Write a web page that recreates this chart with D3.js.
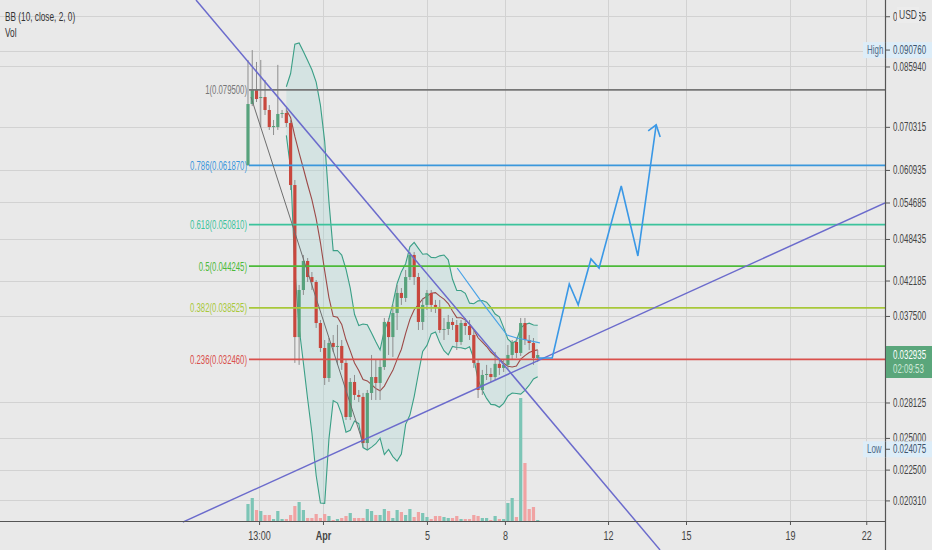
<!DOCTYPE html>
<html>
<head>
<meta charset="utf-8">
<script src="https://cdn.jsdelivr.net/npm/d3@7"></script>
<style>
  body { margin: 0; background: #e9e9e9; }
  text { font-family: "Liberation Sans", Arial, sans-serif; }
</style>
</head>
<body>
<svg id="chart" width="932" height="550"></svg>
<script>
// ---- candles (USD), one per bar ----
const opens = [0.06193,0.07586,0.07948,0.07739,0.07764,0.07437,0.07028,0.07028,0.07339,0.07363,
  0.07122,0.05795,0.03496,0.04088,0.04502,0.04268,0.04198,0.03663,0.03371,0.03051,
  0.03428,0.03383,0.03394,0.03208,0.02680,0.03011,0.02884,0.02865,0.02458,0.02903,
  0.03061,0.03001,0.03165,0.03676,0.03496,0.03787,0.04048,0.03981,0.04268,0.04593,
  0.04268,0.03676,0.03890,0.04048,0.03890,0.03864,0.03579,0.03591,0.03676,0.03639,
  0.03439,0.03663,0.03627,0.03520,0.03208,0.02932,0.03082,0.03092,0.03061,0.03198,
  0.03155,0.03187,0.03294,0.03439,0.03316,0.03663,0.03462,0.03428,0.03261];
const highs = [0.08782,0.09076,0.08724,0.08782,0.08217,0.07560,0.07194,0.08640,0.07437,0.07486,
  0.07194,0.05893,0.04157,0.04593,0.04547,0.04340,0.04226,0.03700,0.03462,0.03485,
  0.03520,0.03640,0.03462,0.03240,0.03051,0.03082,0.02932,0.02903,0.02932,0.03294,
  0.03240,0.03240,0.03725,0.03725,0.03890,0.04157,0.04115,0.04369,0.04639,0.04639,
  0.04326,0.03981,0.04088,0.04088,0.03955,0.03955,0.03725,0.03763,0.03725,0.03700,
  0.03700,0.03725,0.03700,0.03579,0.03240,0.03134,0.03187,0.03155,0.03327,0.03261,
  0.03240,0.03405,0.03462,0.03485,0.03725,0.03725,0.03520,0.03485,0.03349];
const lows = [0.06173,0.07535,0.07637,0.07028,0.07314,0.06959,0.06843,0.06959,0.07241,0.07028,
  0.05700,0.03208,0.03187,0.04021,0.04198,0.04088,0.03603,0.03327,0.02981,0.03011,
  0.03327,0.03187,0.03134,0.02654,0.02654,0.02836,0.02817,0.02426,0.02408,0.02836,
  0.02836,0.02836,0.03134,0.03294,0.03272,0.03579,0.03890,0.03929,0.04226,0.04157,
  0.03579,0.03579,0.03825,0.03800,0.03787,0.03544,0.03462,0.03520,0.03579,0.03349,
  0.03405,0.03520,0.03462,0.03155,0.02855,0.02884,0.03031,0.03011,0.03031,0.03082,
  0.03113,0.03134,0.03240,0.03261,0.03283,0.03405,0.03349,0.03187,0.03218];
const closes = [0.07586,0.07948,0.07713,0.07764,0.07437,0.07028,0.07051,0.07339,0.07363,0.07122,
  0.05795,0.03496,0.04088,0.04502,0.04268,0.04198,0.03663,0.03371,0.03051,0.03428,
  0.03383,0.03394,0.03208,0.02680,0.03011,0.02884,0.02865,0.02458,0.02903,0.03061,
  0.03001,0.03165,0.03676,0.03496,0.03787,0.04048,0.03981,0.04268,0.04593,0.04268,
  0.03676,0.03890,0.04048,0.03890,0.03864,0.03579,0.03591,0.03676,0.03639,0.03439,
  0.03663,0.03627,0.03520,0.03208,0.02932,0.03082,0.03092,0.03061,0.03198,0.03155,
  0.03187,0.03294,0.03439,0.03316,0.03663,0.03462,0.03428,0.03261,0.032935];
const volumes = [17,23,11,10,6,6,2,10,2,2,6,15,19,11,3,3,7,3,7,5,1,2,3,5,8,3,3,3,12,10,
  6,6,12,10,3,11,9,6,12,4,9,8,4,2,5,5,4,3,3,5,2,2,2,6,5,3,3,1,5,2,2,18,23,4,123,58,12,14,1];

// ---- axes ----
const priceTicks = [0.101565,0.090625,0.085940,0.070315,0.060935,0.054685,0.048435,
  0.042185,0.037500,0.028125,0.025000,0.022500,0.020310];
const timeTicks = ["13:00","Apr","5","8","12","15","19","22"];
const timeTickBars = [3.6,18.6,43.0,61.3,85.5,103.8,128.2,146.1];

// ---- fibonacci retracement ----
const fibLevels = ["1","0.786","0.618","0.5","0.382","0.236"];
const fibPrices = [0.079500,0.061870,0.050810,0.044245,0.038525,0.032460];
const fibColors = ["#767676","#3a97dc","#3cc39c","#4cba3a","#a8c83a","#d9504c"];

// ---- drawings: [bar, price] ----
const trendDown = [[-11.2,0.1072],[97.7,0.01723]];
const trendUp = [[-14.3,0.01890],[150.5,0.05459]];
const grayLine = [[1.7,0.07764],[28,0.02458]];
const lightBlue = [[50.1,0.04398],[55.5,0.03955],[61.8,0.03520],[64.1,0.03485],[69.5,0.03428]];
const projection = [[69.1,0.03261],[72.4,0.03261],[76.4,0.04170],[78.5,0.03890],[81.5,0.04532],
  [83.4,0.04398],[88.6,0.05776],[92.5,0.04578],[96.8,0.07077]];

const lastPrice = 0.032935, lastTime = "02:09:53";
const highPrice = 0.090760, lowPrice = 0.024075;

const plotR = 885, plotB = 521;
const svg = d3.select("#chart");

const x = d3.scaleLinear().domain([-57.2, 150.5]).range([0, plotR]);
const y = d3.scaleLog().domain([0.1072, 0.01903]).range([0, 520]);
const yVol = d3.scaleLinear().domain([0, 140]).range([plotB, plotB - 140]);

const bars = closes.map((c, k) => ({ i: k + 1, o: opens[k], h: highs[k], l: lows[k], c: c, v: volumes[k] }));

// bollinger bands 10, 2
const bb = [];
for (let k = 9; k < closes.length; k++) {
  const w = closes.slice(k - 9, k + 1);
  const m = d3.mean(w);
  const sd = Math.sqrt(d3.mean(w, v => (v - m) * (v - m)));
  bb.push({ i: k + 1, m: m, u: m + 2 * sd, lo: m - 2 * sd });
}

// squeeze a text's glyphs horizontally (the original UI font is condensed)
function narrow(sel, f) {
  sel.each(function() {
    const len = this.getComputedTextLength();
    d3.select(this).attr("textLength", len * f).attr("lengthAdjust", "spacingAndGlyphs");
  });
}

svg.append("rect").attr("width", 932).attr("height", 550).attr("fill", "#e9e9e9");

const defs = svg.append("defs");
defs.append("clipPath").attr("id", "plot")
  .append("rect").attr("width", plotR).attr("height", plotB);
defs.append("clipPath").attr("id", "all")
  .append("rect").attr("width", plotR).attr("height", 550);

// grid
const grid = svg.append("g").attr("stroke", "#d2d2d2").attr("stroke-width", 1);
grid.selectAll(".hg").data(priceTicks).enter().append("line")
  .attr("x1", 0).attr("x2", plotR)
  .attr("y1", d => Math.round(y(d)) + 0.5).attr("y2", d => Math.round(y(d)) + 0.5);
grid.selectAll(".vg").data(timeTickBars).enter().append("line")
  .attr("y1", 0).attr("y2", plotB)
  .attr("x1", d => Math.round(x(d)) + 0.5).attr("x2", d => Math.round(x(d)) + 0.5);

// legend
const legend = svg.append("g").attr("font-size", 12.5).attr("fill", "#333");
legend.append("text").attr("x", 5).attr("y", 21).text("BB (10, close, 2, 0)");
legend.append("text").attr("x", 5).attr("y", 37).text("Vol");
narrow(legend.selectAll("text"), 0.66);

const plot = svg.append("g").attr("clip-path", "url(#plot)");

// volume
plot.selectAll(".vol").data(bars).enter().append("rect")
  .attr("x", d => x(d.i) - 1.6).attr("width", 3.2)
  .attr("y", d => yVol(d.v)).attr("height", d => plotB - yVol(d.v))
  .attr("fill", d => d.c >= d.o ? "#7cc5b6" : "#f0a3a3");

// bollinger fill + lines
plot.append("path").datum(bb)
  .attr("d", d3.area().x(d => x(d.i)).y0(d => y(d.lo)).y1(d => y(d.u)))
  .attr("fill", "#a6d6d4").attr("opacity", 0.3);
[["u", "#3a9f86"], ["lo", "#3a9f86"], ["m", "#9c4a48"]].forEach(([k, col]) => {
  plot.append("path").datum(bb)
    .attr("d", d3.line().x(d => x(d.i)).y(d => y(d[k])))
    .attr("fill", "none").attr("stroke", col).attr("stroke-width", 1.1);
});

// candles
const cg = plot.selectAll(".candle").data(bars).enter().append("g");
cg.append("line")
  .attr("x1", d => x(d.i)).attr("x2", d => x(d.i))
  .attr("y1", d => y(d.h)).attr("y2", d => y(d.l))
  .attr("stroke", "#8e8e8e").attr("stroke-width", 1);
cg.append("rect")
  .attr("x", d => x(d.i) - 1.6).attr("width", 3.2)
  .attr("y", d => y(Math.max(d.o, d.c)))
  .attr("height", d => Math.max(1, Math.abs(y(d.o) - y(d.c))))
  .attr("fill", d => d.c >= d.o ? "#57a27c" : "#c8473d");

// fib lines + labels
const fib = svg.append("g");
fibPrices.forEach((p, k) => {
  fib.append("line").attr("x1", x(1) + 1).attr("x2", plotR)
    .attr("y1", y(p)).attr("y2", y(p))
    .attr("stroke", fibColors[k]).attr("stroke-width", 1.8);
  fib.append("text").attr("x", x(1) - 1).attr("y", y(p) + 4.5)
    .attr("text-anchor", "end").attr("font-size", 12.5).attr("fill", fibColors[k])
    .text(fibLevels[k] + "(" + p.toFixed(6) + ")");
});
narrow(fib.selectAll("text"), 0.62);

// drawings
const draw = svg.append("g").attr("clip-path", "url(#all)");
const ln = d3.line().x(d => x(d[0])).y(d => y(d[1]));
draw.append("path").datum(grayLine).attr("d", ln).attr("fill", "none").attr("stroke", "#6e6e6e").attr("stroke-width", 1);
draw.append("path").datum(trendDown).attr("d", ln).attr("fill", "none").attr("stroke", "#6b6bcc").attr("stroke-width", 1.5);
draw.append("path").datum(trendUp).attr("d", ln).attr("fill", "none").attr("stroke", "#6b6bcc").attr("stroke-width", 1.5);
draw.append("path").datum(lightBlue).attr("d", ln).attr("fill", "none").attr("stroke", "#4aa3e6").attr("stroke-width", 1.2);
draw.append("path").datum(projection).attr("d", ln).attr("fill", "none").attr("stroke", "#3a98e6").attr("stroke-width", 1.6);
const tip = projection[projection.length - 1];
const tx = x(tip[0]), ty = y(tip[1]);
draw.append("path").attr("d", `M${tx - 8},${ty + 6}L${tx},${ty}L${tx + 4},${ty + 12}`)
  .attr("fill", "none").attr("stroke", "#3a98e6").attr("stroke-width", 1.6);

// price axis
const ya = svg.append("g").attr("transform", `translate(${plotR},0)`)
  .call(d3.axisRight(y).tickValues(priceTicks).tickFormat(d3.format(".6f")).tickSize(5).tickPadding(3));
ya.select(".domain").remove();
ya.selectAll("line").attr("stroke", "#555");
ya.selectAll("text").attr("font-size", 12).attr("fill", "#444").style("font-family", "Liberation Sans, Arial, sans-serif");
narrow(ya.selectAll("text"), 0.66);

// time axis
const xa = svg.append("g").attr("transform", `translate(0,${plotB})`)
  .call(d3.axisBottom(x).tickValues(timeTickBars).tickFormat((d, k) => timeTicks[k]).tickSize(4).tickPadding(6));
xa.select(".domain").remove();
xa.selectAll("line").attr("stroke", "#555");
xa.selectAll("text").attr("font-size", 12.5).attr("fill", "#444")
  .attr("font-weight", (d, k) => timeTicks[k] === "Apr" ? "bold" : null)
  .style("font-family", "Liberation Sans, Arial, sans-serif");
narrow(xa.selectAll("text"), 0.72);

svg.append("line").attr("x1", 0).attr("x2", plotR).attr("y1", plotB + 0.5).attr("y2", plotB + 0.5).attr("stroke", "#555").attr("stroke-width", 1.2);
svg.append("line").attr("x1", plotR + 0.5).attr("x2", plotR + 0.5).attr("y1", 0).attr("y2", 550).attr("stroke", "#555").attr("stroke-width", 1.2);

// high / low badges
const badges = svg.append("g").attr("font-size", 12);
[[highPrice, "High"], [lowPrice, "Low"]].forEach(([p, lab]) => {
  const yy = y(p);
  badges.append("rect").attr("x", 863).attr("y", yy - 8).attr("width", 69).attr("height", 16).attr("fill", "#ddedf8");
  badges.append("text").attr("x", 867).attr("y", yy + 4).attr("fill", "#4f6b88").text(lab);
  badges.append("line").attr("x1", plotR).attr("x2", plotR + 5).attr("y1", yy).attr("y2", yy).attr("stroke", "#555");
  badges.append("text").attr("x", 893).attr("y", yy + 4).attr("fill", "#3d556e").text(p.toFixed(6));
  badges.append("line").attr("x1", plotR + 0.5).attr("x2", plotR + 0.5).attr("y1", yy - 8).attr("y2", yy + 8).attr("stroke", "#555").attr("stroke-width", 1.2);
});

// last price badge
const ly = y(lastPrice);
badges.append("rect").attr("x", plotR + 1).attr("y", ly - 9).attr("width", 46).attr("height", 32).attr("fill", "#5aa67b");
badges.append("text").attr("x", 893).attr("y", ly + 4).attr("fill", "#fff").text(lastPrice.toFixed(6));
badges.append("text").attr("x", 893).attr("y", ly + 18).attr("fill", "#cfe9d8").text(lastTime);
narrow(badges.selectAll("text"), 0.66);

// USD badge sits over the top tick label
svg.append("rect").attr("x", 897).attr("y", 7).attr("width", 22).attr("height", 16).attr("fill", "#ececec");
svg.append("text").attr("x", 899).attr("y", 19).attr("font-size", 12).attr("fill", "#444")
  .attr("textLength", 18).attr("lengthAdjust", "spacingAndGlyphs").text("USD");
</script>
</body>
</html>
